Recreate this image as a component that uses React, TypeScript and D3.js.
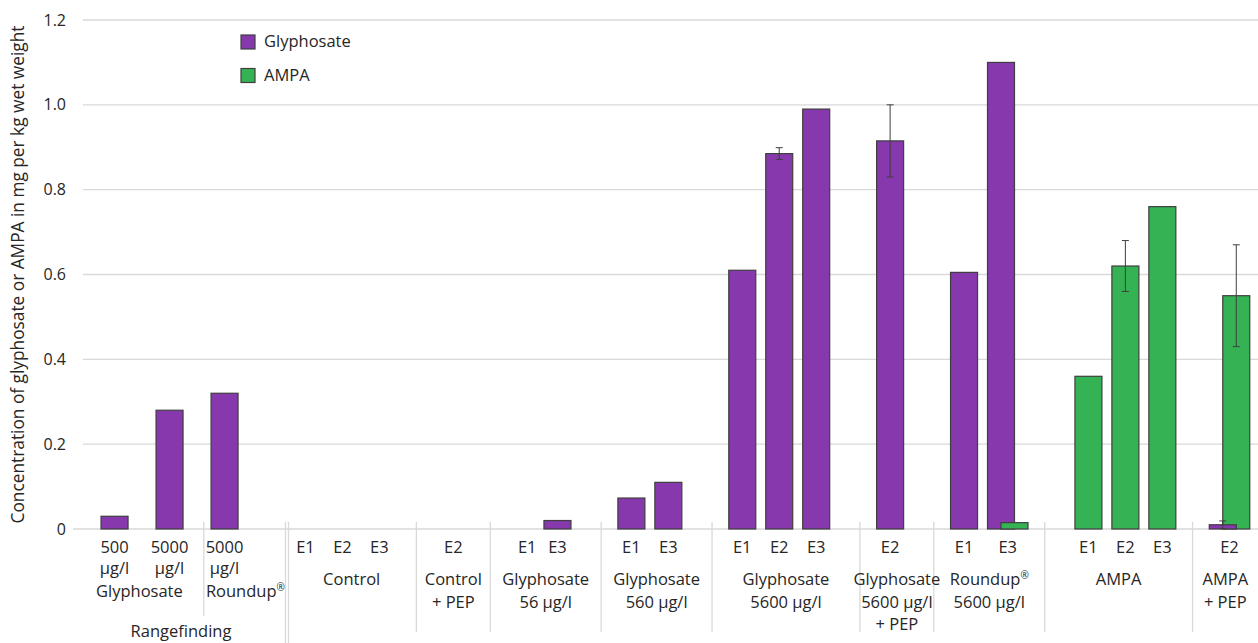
import React from "react";
import * as d3 from "d3";

// series
const seriesNames = ["Glyphosate", "AMPA"];
const seriesColors = ["#8638ac", "#35b254"];

// rangefinding part (only glyphosate measured)
const rangeDoses = ["500", "5000", "5000"];
const rangeUnit = "µg/l";
const rangeProducts = ["Glyphosate", "Roundup®"];
const rangeProductCount = [2, 1];
const rangeGlyphosate = [0.03, 0.28, 0.32];

// main experiment groups
const groupLabels = [
  ["Control"],
  ["Control", "+ PEP"],
  ["Glyphosate", "56 µg/l"],
  ["Glyphosate", "560 µg/l"],
  ["Glyphosate", "5600 µg/l"],
  ["Glyphosate", "5600 µg/l", "+ PEP"],
  ["Roundup®", "5600 µg/l"],
  ["AMPA"],
  ["AMPA", "+ PEP"],
];
const groupExperiments = [
  ["E1", "E2", "E3"],
  ["E2"],
  ["E1", "E3"],
  ["E1", "E3"],
  ["E1", "E2", "E3"],
  ["E2"],
  ["E1", "E3"],
  ["E1", "E2", "E3"],
  ["E2"],
];
const glyphosateValues = [
  [0, 0, 0],
  [0],
  [0, 0.02],
  [0.073, 0.11],
  [0.61, 0.885, 0.99],
  [0.915],
  [0.605, 1.1],
  [0, 0, 0],
  [0.01],
];
const glyphosateErrors = [
  [0, 0, 0],
  [0],
  [0, 0],
  [0, 0],
  [0, 0.014, 0],
  [0.085],
  [0, 0],
  [0, 0, 0],
  [0.009],
];
const ampaValues = [
  [0, 0, 0],
  [0],
  [0, 0],
  [0, 0],
  [0, 0, 0],
  [0],
  [0, 0.015],
  [0.36, 0.62, 0.76],
  [0.55],
];
const ampaErrors = [
  [0, 0, 0],
  [0],
  [0, 0],
  [0, 0],
  [0, 0, 0],
  [0],
  [0, 0],
  [0, 0.06, 0],
  [0.12],
];

const yTitle = "Concentration of glyphosate or AMPA in mg per kg wet weight";
const rangeTitle = "Rangefinding";

type Entry = {
  key: string;
  gap?: boolean;
  label?: string;
  values: number[];
  errors: number[];
};

const font = "'Open Sans', sans-serif";
const textColor = "#262626";
const gridColor = "#d9d9d9";
const edgeColor = "#3f3f3f";
const labelSize = 16.5;

// renders "Roundup®" with a small raised ®
const Label = ({ text, x, y, anchor = "middle" }: { text: string; x: number; y: number; anchor?: string }) => {
  const parts = text.split("®");
  return (
    <text x={x} y={y} textAnchor={anchor} fontFamily={font} fontSize={labelSize} fill={textColor}>
      {parts.map((p, i) => (
        <React.Fragment key={i}>
          <tspan>{p}</tspan>
          {i < parts.length - 1 && (
            <tspan fontSize={10} dy={-6}>®</tspan>
          )}
          {i < parts.length - 1 && <tspan dy={6}></tspan>}
        </React.Fragment>
      ))}
    </text>
  );
};

export default function App() {
  const W = 1258;
  const H = 643;
  const left = 75;
  const right = 1258;
  const split = 287;
  const mainEnd = 1248;
  const yBase = 529;
  const barW = 27;

  const y = d3.scaleLinear().domain([0, 1.2]).range([yBase, 20]);
  const yTicks = y.ticks(6);

  const rangeEntries: Entry[] = rangeDoses.map((d, i) => ({
    key: `r${i}`,
    label: d,
    values: [rangeGlyphosate[i], 0],
    errors: [0, 0],
  }));

  const mainEntries: Entry[] = [];
  groupLabels.forEach((_, gi) => {
    if (gi > 0) mainEntries.push({ key: `gap${gi}`, gap: true, values: [], errors: [] });
    groupExperiments[gi].forEach((e, j) =>
      mainEntries.push({
        key: `${gi}-${e}`,
        label: e,
        values: [glyphosateValues[gi][j], ampaValues[gi][j]],
        errors: [glyphosateErrors[gi][j], ampaErrors[gi][j]],
      })
    );
  });

  const xRange = d3
    .scaleBand<string>()
    .domain(rangeEntries.map((d) => d.key))
    .range([left, split])
    .paddingOuter(0.427)
    .align(0.4);
  const xMain = d3
    .scaleBand<string>()
    .domain(mainEntries.map((d) => d.key))
    .range([split, mainEnd]);

  const offset = d3.scalePoint<string>().domain(seriesNames).range([-barW / 4, barW / 4]);

  const centerOf = (e: Entry, scale: d3.ScaleBand<string>) => (scale(e.key) as number) + scale.bandwidth() / 2;

  const placed = [
    ...rangeEntries.map((e) => ({ e, c: centerOf(e, xRange) })),
    ...mainEntries.filter((e) => !e.gap).map((e) => ({ e, c: centerOf(e, xMain) })),
  ];

  const bars: { x: number; v: number; color: string; key: string }[] = [];
  const errs: { x: number; v: number; err: number; key: string }[] = [];
  placed.forEach(({ e, c }) => {
    e.values.forEach((v, si) => {
      if (v <= 0) return;
      const cx = c + (offset(seriesNames[si]) as number);
      bars.push({ x: cx, v, color: seriesColors[si], key: `${e.key}-${si}` });
      if (e.errors[si] > 0) errs.push({ x: cx, v, err: e.errors[si], key: `${e.key}-${si}` });
    });
  });
  // per category the taller bar is drawn first
  const barOrder = placed.flatMap(({ e }) =>
    bars.filter((b) => b.key.startsWith(e.key + "-")).sort((a, b) => b.v - a.v)
  );

  const labelX = (e: Entry, c: number) => {
    const vis = e.values.map((v, si) => (v > 0 ? (offset(seriesNames[si]) as number) : null)).filter((o) => o !== null) as number[];
    return vis.length ? c + d3.mean(vis)! : c;
  };

  // separators below the axis
  const rangeSplit = xRange(rangeEntries[rangeProductCount[0]].key) as number;
  const gapX = mainEntries.filter((e) => e.gap).map((e) => centerOf(e, xMain));
  const groupBounds = [split, ...gapX, right];

  const productBounds = [left, rangeSplit, split];

  return (
    <svg width={W} height={H} style={{ position: "absolute", left: 0, top: 0, background: "#fff" }}>
      {/* gridlines */}
      {yTicks.filter((t) => t > 0).map((t) => (
        <line key={t} x1={83} x2={right} y1={y(t)} y2={y(t)} stroke={gridColor} strokeWidth={1.3} />
      ))}
      <line x1={73} x2={right} y1={yBase} y2={yBase} stroke={gridColor} strokeWidth={1.3} />

      {/* y tick labels */}
      {yTicks.map((t) => (
        <text key={t} x={66} y={y(t) + 5.5} textAnchor="end" fontFamily={font} fontSize={16} fill={textColor}>
          {t === 0 ? "0" : d3.format(".1f")(t)}
        </text>
      ))}
      <text
        transform={`translate(24, ${(y(0) + y(1.2)) / 2}) rotate(-90)`}
        textAnchor="middle"
        fontFamily={font}
        fontSize={17.3}
        fill={textColor}
      >
        {yTitle}
      </text>

      {/* bars */}
      {barOrder.map((b) => (
        <rect
          key={b.key}
          x={b.x - barW / 2}
          y={y(b.v)}
          width={barW}
          height={yBase - y(b.v)}
          fill={b.color}
          stroke={edgeColor}
          strokeWidth={1.2}
        />
      ))}
      {/* error bars */}
      {errs.map((d) => (
        <g key={d.key} stroke={edgeColor} strokeWidth={1}>
          <line x1={d.x} x2={d.x} y1={y(d.v + d.err)} y2={y(Math.max(0, d.v - d.err))} />
          <line x1={d.x - 3.5} x2={d.x + 3.5} y1={y(d.v + d.err)} y2={y(d.v + d.err)} />
          <line x1={d.x - 3.5} x2={d.x + 3.5} y1={y(Math.max(0, d.v - d.err))} y2={y(Math.max(0, d.v - d.err))} />
        </g>
      ))}

      {/* separators */}
      <line x1={rangeSplit} x2={rangeSplit} y1={522} y2={616} stroke={gridColor} strokeWidth={1.3} />
      <line x1={split - 1.5} x2={split - 1.5} y1={522} y2={H} stroke={gridColor} strokeWidth={1.3} />
      <line x1={split + 1.5} x2={split + 1.5} y1={522} y2={H} stroke={gridColor} strokeWidth={1.3} />
      {gapX.map((gx, i) => (
        <line key={i} x1={gx} x2={gx} y1={522} y2={632} stroke={gridColor} strokeWidth={1.3} />
      ))}

      {/* category labels: rangefinding */}
      {rangeEntries.map((e) => {
        const lx = labelX(e, centerOf(e, xRange));
        return (
          <g key={e.key}>
            <Label text={e.label!} x={lx} y={553} />
            <Label text={rangeUnit} x={lx} y={574} />
          </g>
        );
      })}
      {rangeProducts.map((p, i) => (
        <Label key={p} text={p} x={(productBounds[i] + productBounds[i + 1]) / 2} y={597} />
      ))}
      <Label text={rangeTitle} x={(left + split) / 2} y={637} />

      {/* category labels: experiments */}
      {mainEntries
        .filter((e) => !e.gap)
        .map((e) => (
          <Label key={e.key} text={e.label!} x={labelX(e, centerOf(e, xMain))} y={553} />
        ))}
      {groupLabels.map((lines, gi) =>
        lines.map((ln, li) => (
          <Label key={`${gi}-${li}`} text={ln} x={(groupBounds[gi] + groupBounds[gi + 1]) / 2} y={585 + li * 22.5} />
        ))
      )}

      {/* legend */}
      {seriesNames.map((s, i) => (
        <g key={s} transform={`translate(241, ${35 + i * 33.5})`}>
          <rect width={14} height={14} fill={seriesColors[i]} stroke={edgeColor} strokeWidth={1.2} />
          <Label text={s} x={23} y={12} anchor="start" />
        </g>
      ))}
    </svg>
  );
}
